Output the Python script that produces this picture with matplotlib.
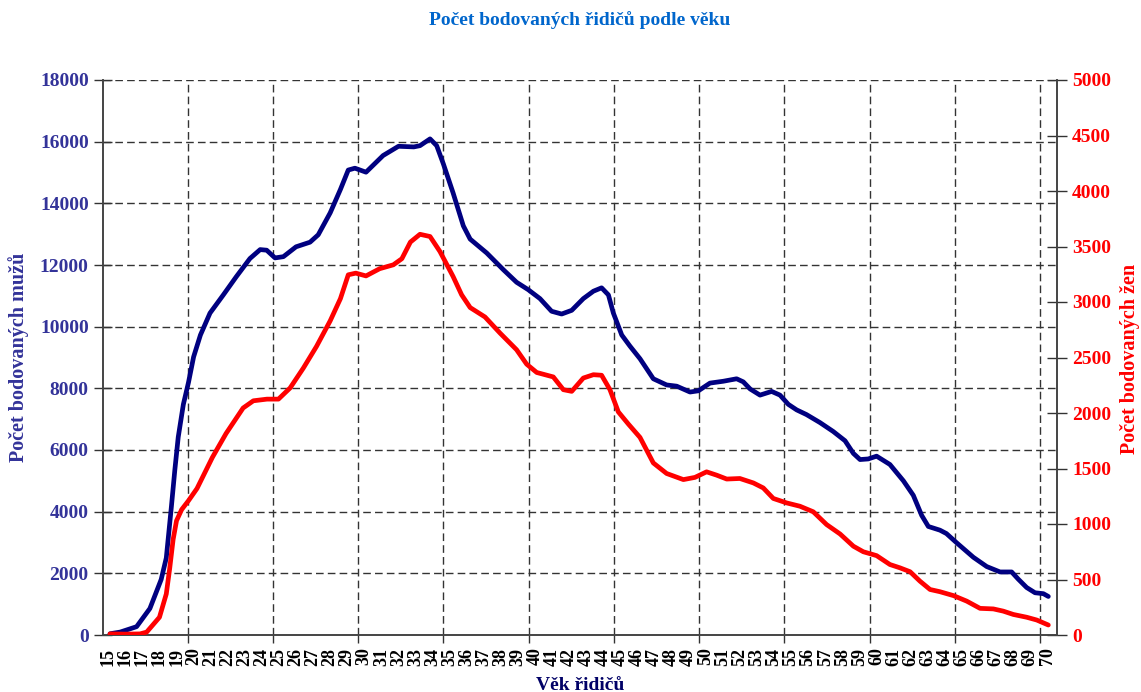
import numpy as np
import matplotlib
matplotlib.use("Agg")
import matplotlib.pyplot as plt

plt.rcParams['font.family'] = ['Liberation Serif', 'DejaVu Serif']
plt.rcParams['font.weight'] = 'bold'

# ---- data ----
age_labels = list(range(15, 71))

men_age = [15.1, 15.7, 16.66, 17.44, 18.1, 18.4, 18.7, 18.9, 19.1, 19.4, 19.7, 20.0, 20.4, 20.96,
           21.74, 22.5, 23.3, 23.9, 24.28, 24.77, 25.26, 26.0, 26.82, 27.3, 28.0, 28.6, 29.06,
           29.45, 30.1, 31.1, 32.0, 32.9, 33.26, 33.85, 34.24, 34.63, 35.2, 35.8, 36.2, 37.17,
           38.14, 38.92, 39.6, 40.29, 40.97, 41.56, 42.15, 42.83, 43.42, 43.9, 44.3, 44.59,
           45.08, 45.56, 46.15, 46.93, 47.71, 48.3, 49.08, 49.57, 50.25, 51.03, 51.81, 52.2,
           52.6, 53.18, 53.86, 54.35, 54.84, 55.33, 55.9, 56.69, 57.47, 58.16, 58.65, 59.04,
           59.52, 60.01, 60.79, 61.58, 62.16, 62.65, 63.04, 63.72, 64.1, 64.7, 65.68, 66.46,
           67.24, 67.92, 68.31, 68.8, 69.29, 69.78, 70.07]
men_count = [40, 95, 270, 860, 1800, 2500, 4170, 5350, 6420, 7480, 8190, 9020, 9730, 10440,
             11030, 11620, 12210, 12500, 12480, 12230, 12270, 12590, 12740, 12980, 13690, 14450, 15080,
             15140, 15010, 15550, 15850, 15830, 15870, 16090, 15870, 15280, 14340, 13270, 12840, 12390,
             11850, 11440, 11200, 10910, 10500, 10410, 10530, 10910, 11150, 11260, 11030, 10440,
             9730, 9370, 8960, 8310, 8110, 8070, 7880, 7920, 8170, 8230, 8310, 8210,
             7980, 7780, 7900, 7780, 7480, 7300, 7150, 6890, 6600, 6300, 5890, 5690,
             5710, 5800, 5530, 5000, 4530, 3880, 3520, 3400, 3290, 2990, 2520, 2220,
             2045, 2045, 1810, 1540, 1370, 1340, 1250]

women_age = [15.1, 16.0, 16.86, 17.25, 18.0, 18.4, 18.6, 18.8, 19.0, 19.3, 19.7, 20.2, 21.1, 21.9,
             22.9, 23.5, 24.3, 24.97, 25.65, 26.43, 27.2, 28.0, 28.6, 29.06, 29.5, 30.1, 30.9,
             31.7, 32.2, 32.7, 33.26, 33.85, 34.43, 35.2, 35.7, 36.2, 37.07, 37.95, 38.92, 39.51,
             40.1, 41.07, 41.66, 42.15, 42.83, 43.42, 43.9, 44.39, 44.88, 45.47, 46.15, 46.93,
             47.71, 48.69, 49.37, 50.05, 50.64, 51.23, 52.0, 52.79, 53.37, 53.96, 54.74, 55.52,
             56.3, 57.08, 57.87, 58.65, 59.23, 60.01, 60.79, 61.38, 61.97, 62.55, 63.14, 63.72,
             64.51, 65.29, 66.07, 66.85, 67.43, 68.02, 68.8, 69.39, 70.07]
women_count = [10, 8, 10, 26, 160, 370, 600, 860, 1030, 1130, 1210, 1320, 1600, 1815,
               2045, 2110, 2125, 2125, 2225, 2405, 2600, 2830, 3030, 3245, 3260, 3235, 3300,
               3335, 3390, 3540, 3610, 3590, 3455, 3230, 3065, 2950, 2865, 2720, 2570, 2440,
               2365, 2325, 2210, 2195, 2315, 2345, 2340, 2210, 2010, 1900, 1780, 1550,
               1455, 1400, 1420, 1470, 1440, 1405, 1410, 1370, 1325, 1230, 1190, 1160,
               1110, 995, 910, 800, 750, 715, 635, 605, 570, 485, 410, 390,
               355, 305, 240, 235, 215, 185, 160, 135, 90]

men_ticks = list(range(0, 18001, 2000))
women_ticks = list(range(0, 5001, 500))

title = "Počet bodovaných řidičů podle věku"
ylabel_left = "Počet bodovaných mužů"
ylabel_right = "Počet bodovaných žen"
xlabel = "Věk řidičů"

# ---- styling ----
W, H = 1141, 692
fig = plt.figure(figsize=(W / 100, H / 100), dpi=100)
L, R, T, B = 103.3, 1056.7, 80, 635
ax = fig.add_axes([L / W, 1 - B / H, (R - L) / W, (B - T) / H])
ax2 = ax.twinx()

navy = '#000080'
red = '#FF0000'
grid_kw = dict(color='#333333', linewidth=1.0, linestyle=(0, (5.5, 3)))

ax.set_xlim(14.71, 70.56)
ax.set_ylim(0, 18000)
ax2.set_ylim(0, 5000)

# vertical grid positions (every ~5 years, as in the original)
vgrid = 19.65 + 4.993 * np.arange(11)
ax.set_xticks(age_labels)
ax.set_xticklabels([str(a) for a in age_labels], rotation=90, fontsize=13,
                   fontweight='bold', color='black')
ax.set_xticks(vgrid, minor=True)
ax.tick_params(axis='x', which='major', length=0, pad=9)
ax.tick_params(axis='x', which='minor', length=6, width=1, color='#333333', direction='out')
for g in vgrid:
    ax.axvline(g, **grid_kw, zorder=1)

ax.set_yticks(men_ticks)
ax.set_yticklabels([str(v) for v in men_ticks], fontsize=14, fontweight='bold', color='#333399')
ax.tick_params(axis='y', length=13, width=1, direction='inout', color='#333333', pad=4)
for v in men_ticks[1:]:
    ax.axhline(v, **grid_kw, zorder=1)

ax2.set_yticks(women_ticks)
ax2.set_yticklabels([str(v) for v in women_ticks], fontsize=14, fontweight='bold', color=red)
ax2.tick_params(axis='y', length=14, width=1, direction='inout', color='#333333', pad=4)

for a in (ax, ax2):
    a.spines['top'].set_visible(False)
    for s in ('left', 'right', 'bottom'):
        a.spines[s].set_color('#444444')
        a.spines[s].set_linewidth(1.2)

ax.plot(men_age, men_count, color=navy, linewidth=3.4, solid_joinstyle='round',
        solid_capstyle='round', zorder=3)
ax2.plot(women_age, women_count, color=red, linewidth=3.4, solid_joinstyle='round',
         solid_capstyle='round', zorder=3)

fig.text(580 / W, 1 - 20 / H, title, ha='center', va='center', fontsize=14,
         fontweight='bold', color='#0066CC')
fig.text(18.5 / W, 1 - 357 / H, ylabel_left, rotation=90, ha='center', va='center',
         fontsize=14.5, fontweight='bold', color='#333399')
fig.text(1130 / W, 1 - 359 / H, ylabel_right, rotation=90, ha='center', va='center',
         fontsize=14.5, fontweight='bold', color=red)
fig.text(580 / W, 1 - 685 / H, xlabel, ha='center', va='center', fontsize=14,
         fontweight='bold', color='#000066')

fig.savefig('out.png', dpi=100)
